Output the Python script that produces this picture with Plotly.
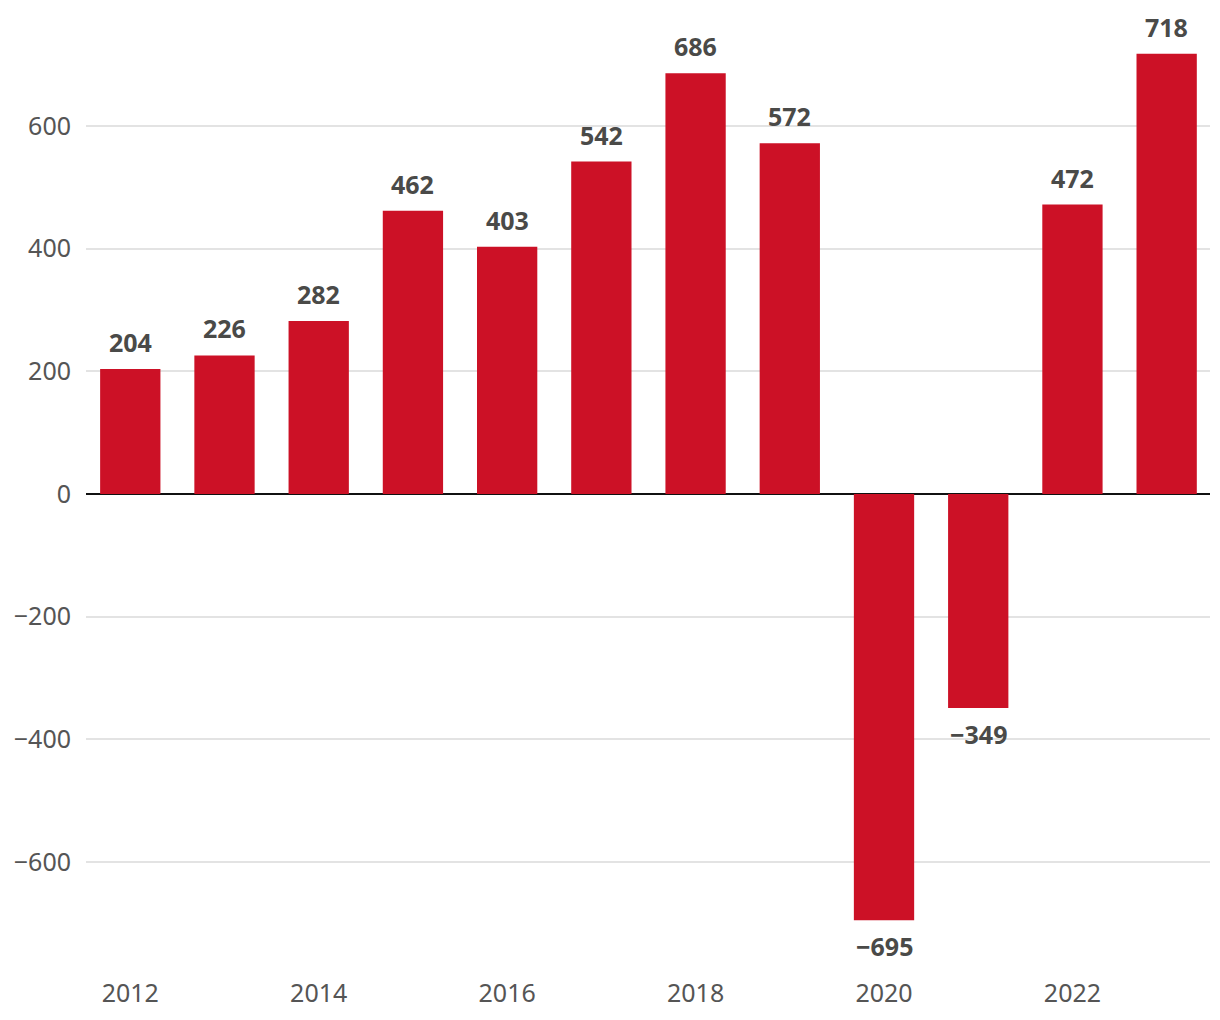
import plotly.graph_objects as go

years = [2012, 2013, 2014, 2015, 2016, 2017, 2018, 2019, 2020, 2021, 2022, 2023]
values = [204, 226, 282, 462, 403, 542, 686, 572, -695, -349, 472, 718]
y_ticks = [-600, -400, -200, 0, 200, 400, 600]
x_ticks = [2012, 2014, 2016, 2018, 2020, 2022]

def fmt(v):
    return str(v).replace("-", "\u2212")

fig = go.Figure(go.Bar(
    x=years, y=values,
    marker=dict(color="#CC1126", line=dict(width=0)),
    width=0.64,
    hoverinfo="x+y",
))

annotations = []
for yr, v in zip(years, values):
    annotations.append(dict(
        x=yr, y=v, xref="x", yref="y", text=fmt(v), showarrow=False,
        yanchor="bottom" if v >= 0 else "top",
        yshift=8 if v >= 0 else -7,
        font=dict(family="Noto Sans", size=25, color="#4a4a48", weight="bold"),
    ))

fig.update_layout(
    width=1220, height=1020,
    margin=dict(l=78, r=18, t=7, b=59),
    paper_bgcolor="white", plot_bgcolor="white",
    font=dict(family="Noto Sans", size=26, color="#555555"),
    showlegend=False,
    annotations=annotations,
)
fig.update_xaxes(
    range=[2011.53, 2023.46], tickvals=x_ticks, ticktext=[str(t) for t in x_ticks],
    showgrid=False, zeroline=False, showline=False, ticks="", automargin=False,
    ticklabelstandoff=7,
    tickfont=dict(family="Noto Sans", size=25, color="#555555"),
)
fig.update_yaxes(
    range=[-774.5, 781], tickvals=y_ticks,
    ticktext=[fmt(t) for t in y_ticks],
    showgrid=True, gridcolor="#e3e3e3", gridwidth=1.5,
    zeroline=True, zerolinecolor="#111111", zerolinewidth=1.5,
    ticks="", ticklabelstandoff=14, automargin=False,
    tickfont=dict(family="Noto Sans", size=25, color="#555555"),
)

fig.write_html("out.html")
